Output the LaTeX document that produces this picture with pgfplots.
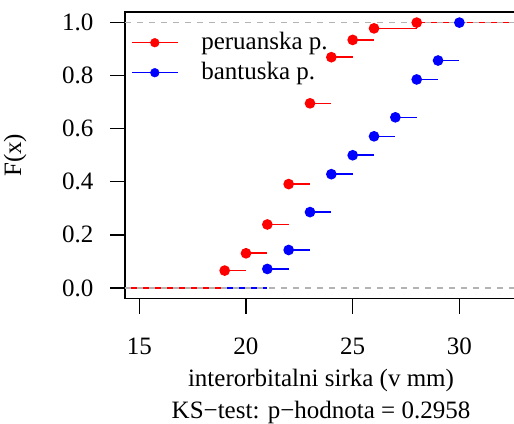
\documentclass[border=0pt]{standalone}
\usepackage{fontspec}
\setmainfont{Liberation Serif}
\usepackage{pgfplots}
\pgfplotsset{compat=1.18}

\definecolor{gray70}{RGB}{179,179,179}
\newcommand\fs{\fontsize{25bp}{30bp}\selectfont}

\begin{document}
\begin{tikzpicture}[font=\fs]
\begin{axis}[
  name=ax, at={(0,0)}, anchor=south west,
  scale only axis, width=392bp, height=286.5bp,
  xmin=14.33, xmax=32.7, ymin=-0.04, ymax=1.04,
  axis line style={line width=1.4bp},
  tick style={line width=1.4bp, black},
  tick align=outside, major tick length=15bp, tick pos=left,
  /pgf/number format/assume math mode=true,
  xtick={15,20,25,30},
  ytick={0,0.2,0.4,0.6,0.8,1},
  yticklabel style={/pgf/number format/fixed, /pgf/number format/fixed zerofill,
    /pgf/number format/precision=1, xshift=-13bp},
  every tick label/.append style={font=\fs},
  xticklabel style={yshift=-21bp},
  xlabel={interorbitalni sirka (v mm)},
  ylabel={F(x)},
  every axis x label/.style={at={(axis description cs:0.5,0)}, anchor=base, yshift=-88.2bp},
  every axis y label/.style={at={(axis description cs:-0.2806,0.5)}, rotate=90, anchor=center},
  legend image code/.code={
    \path[draw=none, fill=none] (0bp,0bp) -- (69.5bp,0bp);
    \draw[#1, line width=1.6bp] (0bp,0bp) -- (46bp,0bp);
    \fill[#1] (23bp,0bp) circle (4.4bp);
  },
  legend style={draw=none, fill=none, inner sep=0pt, outer sep=0pt,
    at={(rel axis cs:0.0153,0.9159)}, anchor=north west,
    row sep=16.8bp,
    nodes={inner sep=0pt, text height=13.2bp, text depth=0pt, anchor=west}},
]
\addlegendimage{red}
\addlegendentry{peruanska p.}
\addlegendimage{blue}
\addlegendentry{bantuska p.}

% bantuska p. (n = 14)
\addplot[blue, line width=1.6bp, jump mark left, mark=*, mark size=4.5bp,
  mark options={draw=none, fill=blue}, mark indices={2,...,11}, forget plot]
  coordinates {
  (14.33,0)(21,0.0714)(22,0.1429)(23,0.2857)(24,0.4286)(25,0.5)
  (26,0.5714)(27,0.6429)(28,0.7857)(29,0.8571)(30,1)(32.7,1)
};
% peruanska p. (n = 46)
\addplot[red, line width=1.6bp, jump mark left, mark=*, mark size=4.5bp,
  mark options={draw=none, fill=red}, mark indices={2,...,10}, forget plot]
  coordinates {
  (14.33,0)(19,0.0652)(20,0.1304)(21,0.2391)(22,0.3913)(23,0.6957)
  (24,0.8696)(25,0.9348)(26,0.9783)(28,1)(32.7,1)
};
\addplot[gray70, line width=1.3bp, dash pattern=on 6bp off 6bp, forget plot]
  coordinates {(14.33,0)(32.7,0)};
\addplot[gray70, line width=1.3bp, dash pattern=on 6bp off 6bp, forget plot]
  coordinates {(14.33,1)(32.7,1)};
\end{axis}
\node[anchor=base] at ([yshift=-119.5bp]ax.south) {KS−test: p−hodnota = 0.2958};
\pgfresetboundingbox
\useasboundingbox (-125bp,-125.5bp) rectangle (389bp,298.5bp);
\end{tikzpicture}
\end{document}
